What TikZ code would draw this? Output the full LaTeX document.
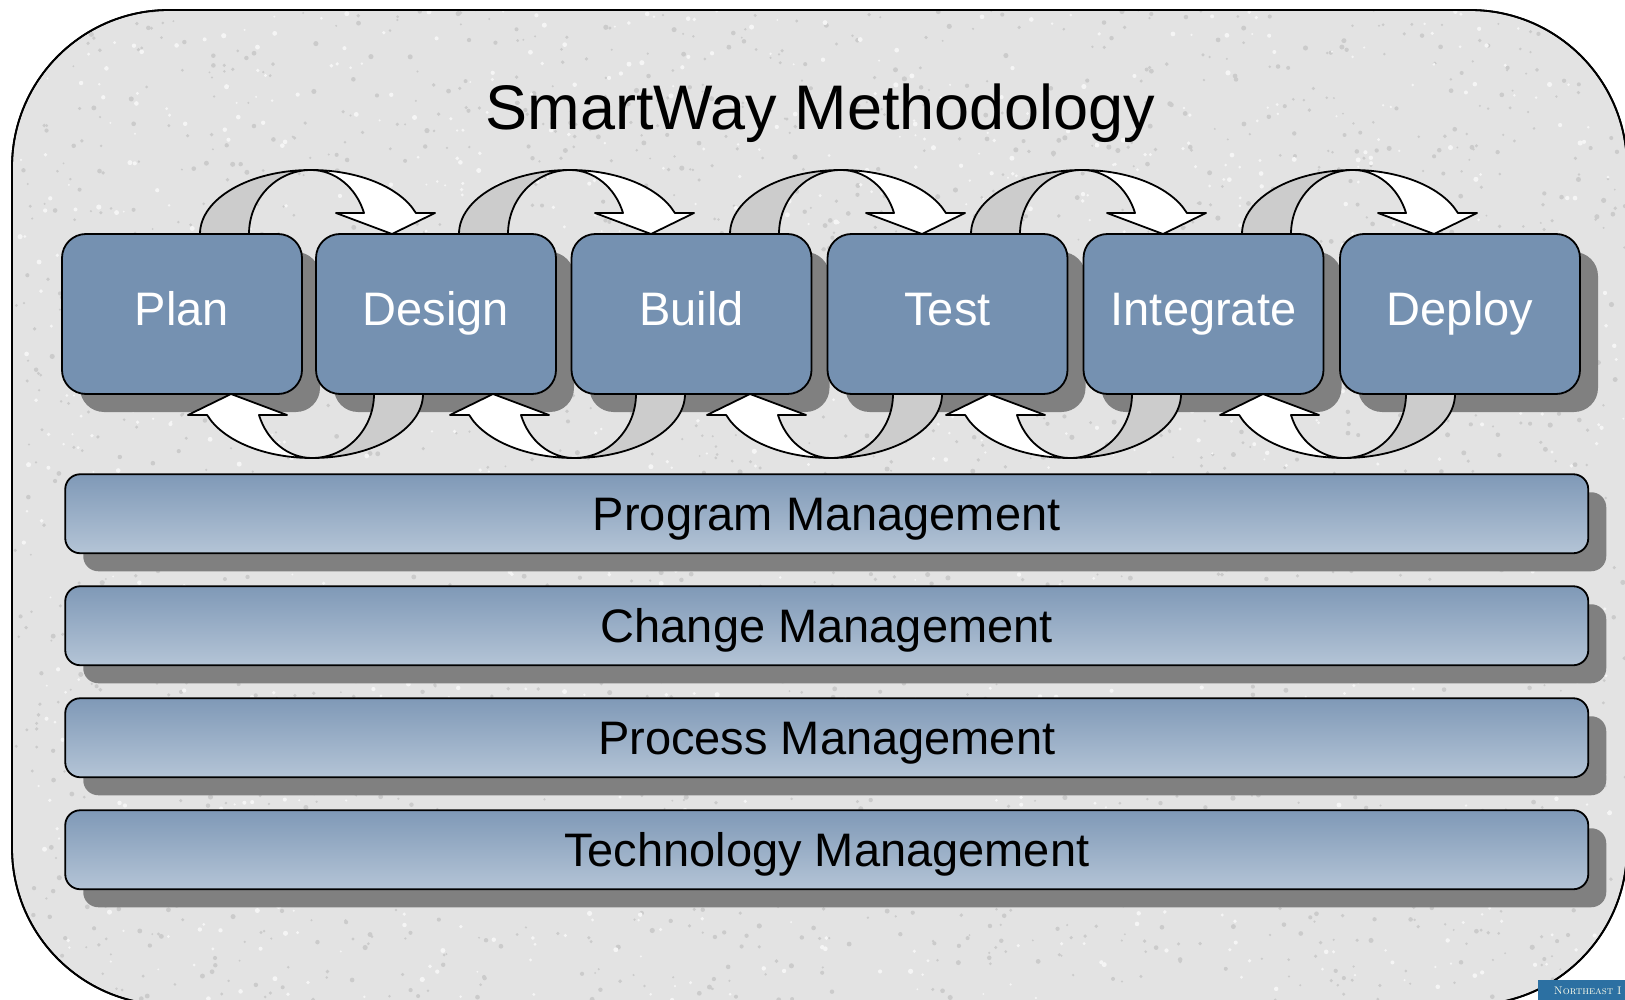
\documentclass[tikz,border=0pt]{standalone}
\usepackage{fontspec}
\setsansfont{Liberation Sans}
\usetikzlibrary{shadows}
\definecolor{panelgray}{HTML}{E3E3E3}
\definecolor{specklegray}{HTML}{CBCBCB}
\definecolor{phaseblue}{HTML}{7591B1}
\definecolor{bandtop}{HTML}{7F99B7}
\definecolor{bandbot}{HTML}{B4C4D6}
\definecolor{shadowgray}{HTML}{808080}
\definecolor{backgray}{HTML}{CCCCCC}
\definecolor{logoblue}{HTML}{2C70A2}

\begin{document}
\begin{tikzpicture}[x=1pt, y=1pt, line width=1.8pt,
    phase/.style={draw, fill=phaseblue, rounded corners=24pt, minimum width=240pt, minimum height=160pt,
        text=white, font=\sffamily\fontsize{47}{56}\selectfont, text height=34pt, text depth=10pt,
        drop shadow={shadow xshift=18pt, shadow yshift=-18pt, fill=shadowgray, opacity=1}},
    band/.style={draw, top color=bandtop, bottom color=bandbot, rounded corners=15pt,
        minimum width=1523pt, minimum height=79pt, font=\sffamily\fontsize{47}{56}\selectfont,
        text height=34pt, text depth=0pt,
        drop shadow={shadow xshift=18pt, shadow yshift=-18pt, fill=shadowgray, opacity=1}},
    loopback/.style={draw, fill=backgray, line join=round},
    loopface/.style={draw, fill=white, line join=round}]
    \useasboundingbox (0,0) rectangle (1625,-1000);
    \fill[white] (0,0) rectangle (1625,-1000);
    \clip (0,0) rectangle (1625,-1000);

    \node[draw, fill=panelgray, rounded corners=157pt, minimum width=1615pt, minimum height=995pt] (panel) at (819.5,-507.5) {};
    % granite look of the panel
    \begin{scope}
        \clip[rounded corners=157pt] (13,-11) rectangle (1626,-1004);
        \pgfmathsetseed{7}
        \foreach \i in {1,...,2600}
            \fill[specklegray] ({1625*rnd},{-1000*rnd}) circle ({1+1.6*rnd});
        \foreach \i in {1,...,1400}
            \fill[white!65!panelgray] ({1625*rnd},{-1000*rnd}) circle ({1+1.6*rnd});
    \end{scope}
    \draw[rounded corners=157pt] (12,-10) rectangle (1627,-1005);

    \node[fill=logoblue, anchor=north west, minimum height=22pt, text width=100pt, inner xsep=16pt, align=left,
        text=white!92!yellow, font=\rmfamily\fontsize{11}{12}\selectfont] (logo) at (1537,-979) {\textsc{Northeast I}};

    \node[font=\sffamily\fontsize{63}{70}\selectfont, anchor=base] (title) at (820.5,-130) {SmartWay Methodology};

    \node[phase] (plan) at (182,-314) {Plan};
    \node[phase] (design) at (436,-314) {Design};
    \node[phase] (build) at (691.5,-314) {Build};
    \node[phase] (test) at (947.5,-314) {Test};
    \node[phase] (integrate) at (1203.5,-314) {Integrate};
    \node[phase] (deploy) at (1460,-314) {Deploy};

    \node[band] (program) at (826.75,-513.75) {Program Management};
    \node[band] (change) at (826.75,-625.75) {Change Management};
    \node[band] (process) at (826.75,-737.75) {Process Management};
    \node[band] (technology) at (826.75,-849.75) {Technology Management};

    % turning arrows: top row forward, bottom row back
    \foreach \cx/\cy/\s in {311/-234/1, 570/-234/1, 841/-234/1, 1082/-234/1, 1353/-234/1,
                            312/-394/-1, 574/-394/-1, 831/-394/-1, 1070/-394/-1, 1344/-394/-1}{
        \pgfmathsetmacro\a{90-90*\s}
        \begin{scope}[shift={(\cx,\cy)}]
            \draw[loopback] ({-111*\s},0) arc[start angle=180+\a, end angle=90+\a, x radius=111, y radius=64]
                arc[start angle=90+\a, end angle=180+\a, x radius=62, y radius=64] -- cycle;
            \draw[loopface] (0,{64*\s}) arc[start angle=90+\a, end angle=19.15+\a, x radius=111, y radius=64]
                -- ({124*\s},{21*\s}) -- ({81*\s},0) -- ({25*\s},{21*\s}) -- ({53*\s},{21*\s})
                arc[start angle=19.15+\a, end angle=90+\a, x radius=56.1, y radius=64] -- cycle;
        \end{scope}
    }
\end{tikzpicture}
\end{document}
